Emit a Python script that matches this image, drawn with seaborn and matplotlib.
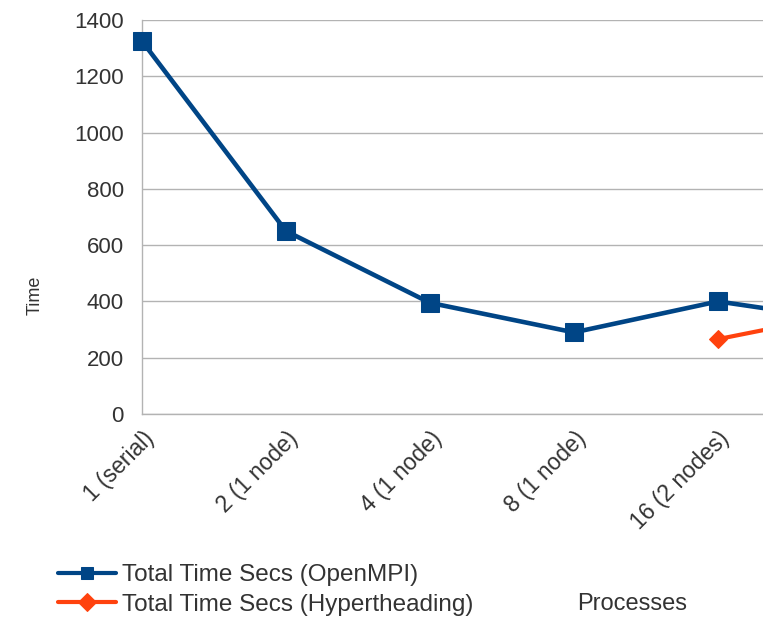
import matplotlib
matplotlib.use("Agg")
import matplotlib.pyplot as plt
import seaborn as sns
import numpy as np
import pandas as pd

categories = ["1 (serial)", "2 (1 node)", "4 (1 node)", "8 (1 node)", "16 (2 nodes)", "32 (4 nodes)"]
openmpi = [1325, 650, 395, 290, 400, 325]
hyperthreading = [np.nan, np.nan, np.nan, np.nan, 266, 368]
y_ticks = [0, 200, 400, 600, 800, 1000, 1200, 1400]

sns.set_theme(style="white")
plt.rcParams["font.family"] = ["Liberation Sans", "DejaVu Sans"]

W, H = 763, 620
fig = plt.figure(figsize=(W / 100, H / 100), dpi=100)
# plot area runs past the right edge of the canvas
left, right, top, bottom = 142, 862, 20, 414
ax = fig.add_axes([left / W, (H - bottom) / H, (right - left) / W, (bottom - top) / H])

pos = np.arange(len(categories))
df = pd.DataFrame({"pos": pos, "mpi": openmpi, "ht": hyperthreading})

blue = "#004586"
orange = "#ff420e"
sns.lineplot(data=df, x="pos", y="mpi", ax=ax, color=blue, lw=3.3,
             marker="s", markersize=13, markeredgecolor=blue,
             label="Total Time Secs (OpenMPI)", clip_on=False, zorder=4)
sns.lineplot(data=df.dropna(), x="pos", y="ht", ax=ax, color=orange, lw=3.0,
             marker="D", markersize=9, markeredgecolor=orange,
             label="Total Time Secs (Hypertheading)", zorder=5)

text_color = "#333333"
ax.set_xlim(0, len(categories) - 1)
ax.set_ylim(0, 1400)
ax.set_yticks(y_ticks)
ax.set_xticks(pos)
ax.set_xticklabels(categories, rotation=45, ha="right", rotation_mode="anchor")
ax.tick_params(axis="both", colors=text_color, width=1, direction="out")
ax.tick_params(axis="y", labelsize=16, length=9, pad=4)
ax.tick_params(axis="x", labelsize=16.5, length=6.5, pad=3)
ax.tick_params(axis="both", color="#b3b3b3")
ax.grid(axis="y", color="#b3b3b3", lw=1)
ax.set_axisbelow(True)
for s in ["top", "right"]:
    ax.spines[s].set_visible(False)
for s in ["left", "bottom"]:
    ax.spines[s].set_color("#b3b3b3")
    ax.spines[s].set_linewidth(1)

ax.set_xlabel("")
ax.set_ylabel("")
fig.text(35 / W, 1 - 295 / H, "Time", rotation=90, ha="center", va="center",
         fontsize=13, color=text_color)
fig.text(632 / W, 1 - 604 / H, "Processes", ha="center", va="center",
         fontsize=17, color=text_color)

handles, labels = ax.get_legend_handles_labels()
ax.get_legend().remove()
leg = fig.legend(handles, labels, loc="upper left",
                 bbox_to_anchor=(58 / W, 1 - 564 / H), frameon=False,
                 fontsize=17.5, handlelength=2.4, handletextpad=0.25,
                 labelspacing=0.32, borderpad=0, borderaxespad=0,
                 labelcolor=text_color)
for h in leg.legend_handles:
    h.set_linewidth(3.0)
    h.set_markersize(9)

fig.savefig("out.png", dpi=100)
